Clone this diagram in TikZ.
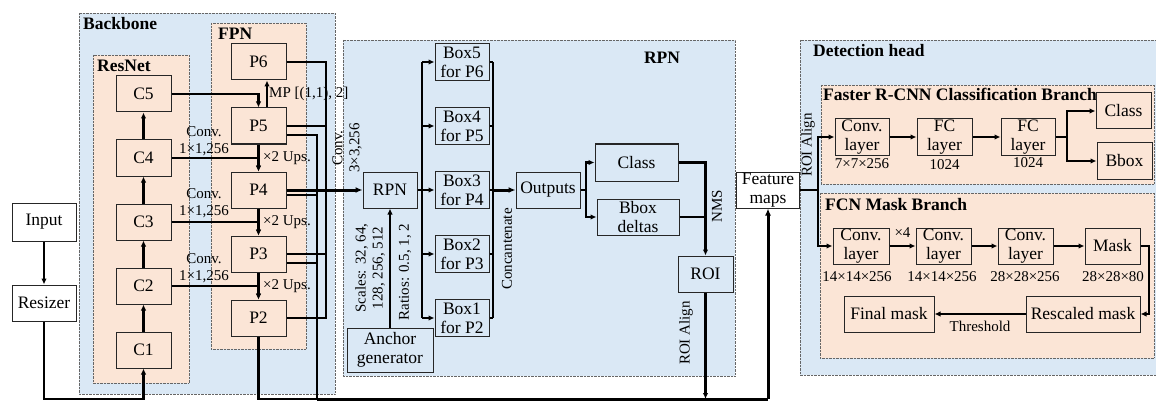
\documentclass[tikz,border=0pt]{standalone}
\usepackage{fontspec}
\setmainfont{Liberation Serif}
\usetikzlibrary{arrows.meta,positioning,calc}
\definecolor{PaleBlue}{HTML}{DAE8F5}
\definecolor{Peach}{HTML}{FBE5D6}
\begin{document}
\begin{tikzpicture}[x=1pt,y=-1pt,font=\fontsize{17.5}{19}\selectfont,
region/.style={draw=black!60,densely dotted,fill=PaleBlue},
branch/.style={draw=black!60,densely dotted,fill=Peach},
box/.style={draw=black!85,line width=1pt,fill=#1,minimum width=55pt,minimum height=36pt,inner sep=0pt,align=center},
box/.default=PaleBlue,
ttl/.style={font=\fontsize{17.5}{19}\selectfont\bfseries,inner sep=0pt},
lbl/.style={font=\fontsize{15}{17}\selectfont,inner sep=0pt,align=center},
wire/.style={line width=2.2pt},
bus/.style={line width=3pt},
edge/.style={wire,-{Latex[length=6pt,width=5.5pt]}}]
\useasboundingbox (0,0) rectangle (1156,401);
\coordinate (low) at (0,399);
\draw[region] (79,13) rectangle (335,394);
\draw[branch] (93,55) rectangle (189,383);
\draw[branch] (211,23) rectangle (306,349);
\draw[region] (343,40) rectangle (735,376);
\draw[region] (800,40) rectangle (1162,375);
\draw[branch] (821,85) rectangle (1154,184);
\draw[branch] (820,193) rectangle (1154,358);
\node[ttl,anchor=north west] (tbb) at (83,17) {Backbone};
\node[ttl,anchor=north west] (trn) at (97,60) {ResNet};
\node[ttl,anchor=north west] (tfp) at (218,28) {FPN};
\node[ttl] (trp) at (662,58) {RPN};
\node[ttl,anchor=north west] (tdh) at (813,44) {Detection head};
\node[ttl,anchor=north west] (tfr) at (823,88) {Faster R-CNN Classification Branch};
\node[ttl,anchor=north west] (tfc) at (825,198) {FCN Mask Branch};

\node[box=white,minimum width=64pt,minimum height=38pt] (in) at (44,222) {Input};
\node[box=white,minimum width=64pt] (rs) at (44,303) {Resizer};
\foreach \n/\y in {5/94,4/158,3/222,2/286,1/350} \node[box=Peach] (c\n) at (143.5,\y) {C\n};
\foreach \n/\y in {6/62,5/126,4/190,3/254,2/318} \node[box=Peach] (p\n) at (258.5,\y) {P\n};
\node[box,minimum width=54pt] (rpn) at (390,190) {RPN};
\foreach \n/\p/\y in {5/6/62,4/5/126,3/4/190,2/3/254,1/2/318} \node[box,minimum width=54pt,minimum height=37pt] (b\n) at (462,\y) {Box\n\\for P\p};
\node[box,minimum width=86pt,minimum height=44pt] (anc) at (390,350) {Anchor\\generator};
\node[box,minimum width=64pt] (out) at (548,190) {Outputs};
\node[box,minimum width=83pt,minimum height=37pt] (cls) at (636.5,162.5) {Class};
\node[box,minimum width=82pt] (bbd) at (638,217) {Bbox\\deltas};
\node[box] (roi) at (705.5,274) {ROI};
\node[box=white,minimum width=63pt] (fm) at (768,190) {Feature\\maps};
\node[box=Peach,minimum width=54pt,minimum height=37pt] (hc) at (862,137) {Conv.\\layer};
\node[box=Peach,minimum width=55pt,minimum height=37pt] (f1) at (944.5,137) {FC\\layer};
\node[box=Peach,minimum width=54pt,minimum height=37pt] (f2) at (1028,137) {FC\\layer};
\node[box=Peach] (hk) at (1123.5,111) {Class};
\node[box=Peach] (hb) at (1124.5,161) {Bbox};
\node[box=Peach,minimum width=56pt] (m1) at (861,246) {Conv.\\layer};
\node[box=Peach] (m2) at (943.5,246) {Conv.\\layer};
\node[box=Peach] (m3) at (1025.5,246) {Conv.\\layer};
\node[box=Peach] (mk) at (1112.5,246) {Mask};
\node[box=Peach,minimum width=114pt] (rm) at (1083,314) {Rescaled mask};
\node[box=Peach,minimum width=90pt] (fn) at (889,314) {Final mask};

\node[lbl] (s1) at (862,164) {7×7×256};
\node[lbl] (s2) at (944.5,165) {1024};
\node[lbl] (s3) at (1028,163) {1024};
\node[lbl] (s4) at (857,277) {14×14×256};
\node[lbl] (s5) at (942,277) {14×14×256};
\node[lbl] (s6) at (1025,277) {28×28×256};
\node[lbl] (s7) at (1113,277) {28×28×80};
\foreach \y [count=\i] in {141,203,268} \node[lbl] (cv\i) at (204,\y) {Conv.\\1×1,256};
\foreach \y [count=\i] in {158,222,286} \node[lbl,anchor=west] (up\i) at (263,\y) {×2 Ups.};
\node[lbl,anchor=west] (mp) at (269,94) {MP [(1,1), 2]};
\node[lbl,rotate=90] (c33) at (347,148) {Conv.\\3×3,256};
\node[lbl,rotate=90] (scl) at (370,268) {Scales: 32, 64,\\128, 256, 512};
\node[lbl,rotate=90] (rat) at (405,272) {Ratios: 0.5, 1, 2};
\node[lbl,rotate=90] (cat) at (507,249) {Concantenate};
\node[lbl,rotate=90] (nms) at (717,206) {NMS};
\node[lbl,rotate=90] (ra1) at (686,333) {ROI Align};
\node[lbl,rotate=90] (ra2) at (808,145) {ROI Align};

\coordinate (ba) at (326,0); \coordinate (bb) at (317,0);
\coordinate (rb) at (422,0); \coordinate (cb) at (493,0);
\coordinate (ob) at (586,0); \coordinate (hbus) at (818,0);
\coordinate (fb) at (1067,0); \coordinate (mb) at (1149,0);
\draw[edge] (in) -- (rs);
\draw[edge] (rs.south) -- (rs.south |- low) -| (c1.south);
\foreach \a/\b in {c1/c2,c2/c3,c3/c4,c4/c5} \draw[edge] (\a) -- (\b);
\draw[edge] (c5.east) -| (p5.north);
\foreach \a/\b in {c4/p4,c3/p3,c2/p2} \draw[edge] (\a.east) -| (\b.north);
\foreach \a/\b in {p5/p4,p4/p3,p3/p2} \draw[edge] (\a) -- (\b);
\draw[edge] ([xshift=8.5pt]p5.north) -- ([xshift=8.5pt]p6.south);
\draw[wire] (p6.east) -- (p6.east -| ba) -- (p2.east -| ba) -- (p2.east);
\draw[wire] (p5.east) -- (p5.east -| ba);
\draw[wire] (p3.east) -- (p3.east -| ba);
\draw[wire] ([yshift=-9pt]p5.east) -- ([yshift=-9pt]p5.east -| bb) -- (bb |- low);
\draw[wire] ([yshift=-5pt]p4.east) -- ([yshift=-5pt]p4.east -| bb);
\draw[wire] ([yshift=-9pt]p3.east) -- ([yshift=-9pt]p3.east -| bb);
\draw[wire] (p2.south) |- (bb |- low);
\draw[bus,-{Latex[length=7pt,width=6pt]}] (p4.east) -- (rpn.west);
\draw[bus] (bb |- low) -- (fm.south |- low);
\draw[bus,-{Latex[length=7pt,width=6pt]}] (fm.south |- low) -- (fm.south);
\draw[edge] (anc) -- (rpn);
\draw[wire] (rpn.east) -- (rpn.east -| rb);
\draw[wire] (b5.west -| rb) -- (b1.west -| rb);
\draw[wire] (b5.east -| cb) -- (b1.east -| cb);
\foreach \b in {b1,b2,b3,b4,b5} {
  \draw[edge] (\b.west -| rb) -- (\b.west);
  \draw[wire] (\b.east) -- (\b.east -| cb);
}
\draw[bus,-{Latex[length=7pt,width=6pt]}] (b3.east -| cb) -- (out.west);
\draw[wire] (out.east) -- (out.east -| ob);
\draw[edge] (out.east -| ob) |- (cls.west);
\draw[edge] (out.east -| ob) |- (bbd.west);
\draw[edge] (cls.east) -| (roi.north);
\draw[wire] (bbd.east) -- (bbd.east -| roi.north);
\draw[edge] (roi) -- (roi |- low);
\draw[wire] (fm.east) -- (fm.east -| hbus);
\draw[edge] (fm.east -| hbus) |- (hc.west);
\draw[edge] (fm.east -| hbus) |- (m1.west);
\draw[edge] (hc) -- (f1);
\draw[edge] (f1) -- (f2);
\draw[wire] (f2.east) -- (f2.east -| fb);
\draw[edge] (f2.east -| fb) |- (hk.west);
\draw[edge] (f2.east -| fb) |- (hb.west);
\draw[edge] (m1) -- (m2) node[lbl,midway,above=7pt] (x4) {×4};
\draw[edge] (m2) -- (m3);
\draw[edge] (m3) -- (mk);
\draw[edge] (mk.east) -- (mk.east -| mb) -- (mb |- rm.east) -- (rm.east);
\draw[edge] (rm) -- (fn) node[lbl,midway,below=6pt] (thr) {Threshold};
\end{tikzpicture}
\end{document}
